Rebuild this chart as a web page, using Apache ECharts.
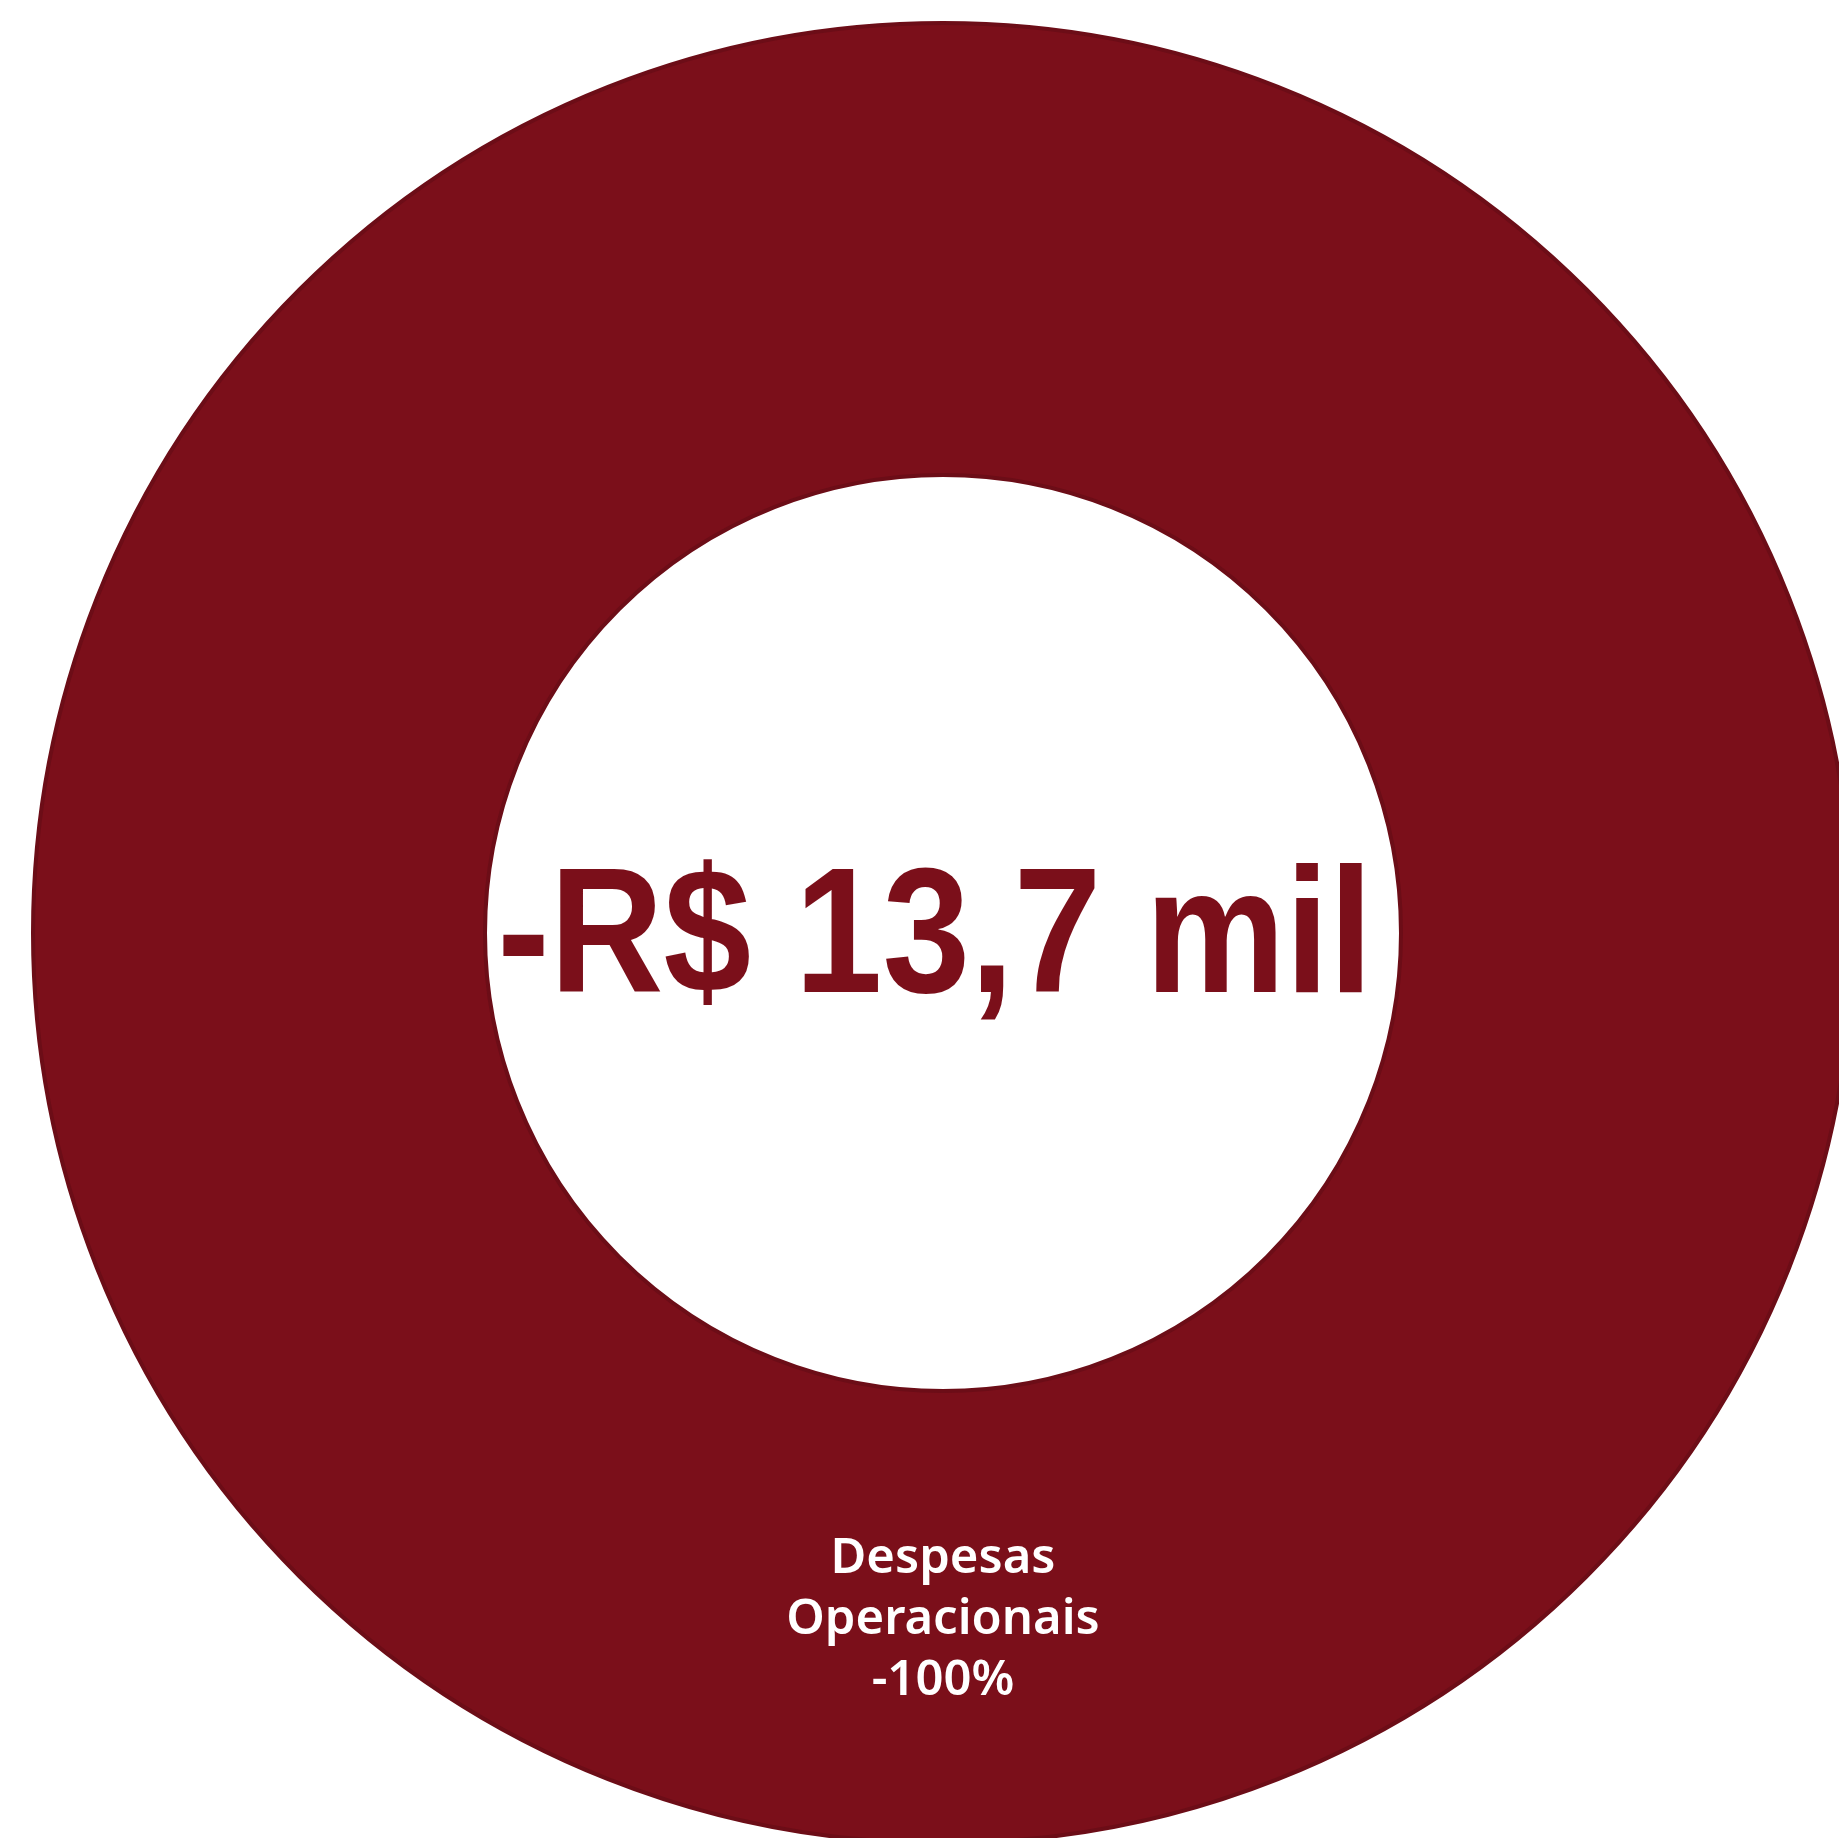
<!DOCTYPE html>
<html>
<head>
<meta charset="utf-8">
<script src="https://cdn.jsdelivr.net/npm/echarts@6/dist/echarts.min.js"></script>
<style>html,body{margin:0;padding:0;background:#fff;}#c{width:1839px;height:1838px;}</style>
</head>
<body>
<div id="c"></div>
<script>
const categories = ['Despesas Operacionais'];
const values = [-13700];
const totalLabel = '-R$ 13,7 mil';

const total = values.reduce((a, b) => a + b, 0);
const chart = echarts.init(document.getElementById('c'), null, {renderer: 'canvas'});
chart.setOption({
  animation: false,
  backgroundColor: '#ffffff',
  graphic: [{
    type: 'text',
    x: 935,
    y: 943,
    scaleX: 0.88,
    z: 100,
    style: {
      text: totalLabel,
      textAlign: 'center',
      textVerticalAlign: 'middle',
      fill: '#7B0F1A',
      fontFamily: '"Liberation Sans", Arial, sans-serif',
      fontWeight: 'bold',
      fontSize: 179
    }
  }],
  series: [{
    type: 'pie',
    center: [943, 933],
    radius: [458, 910],
    startAngle: 90,
    itemStyle: { color: '#7B0F1A', borderColor: '#6C0D17', borderWidth: 4 },
    label: {
      show: true,
      position: 'inside',
      color: '#ffffff',
      fontFamily: '"Noto Sans", sans-serif',
      fontWeight: 600,
      fontSize: 49,
      lineHeight: 61,
      formatter: function (p) {
        const pct = Math.round(values[p.dataIndex] / Math.abs(total) * 100);
        return p.name.replace(' ', '\n') + '\n' + pct + '%';
      }
    },
    labelLine: { show: false },
    emphasis: { disabled: true },
    data: categories.map((c, i) => ({ name: c, value: Math.abs(values[i]) }))
  }]
});
</script>
</body>
</html>
